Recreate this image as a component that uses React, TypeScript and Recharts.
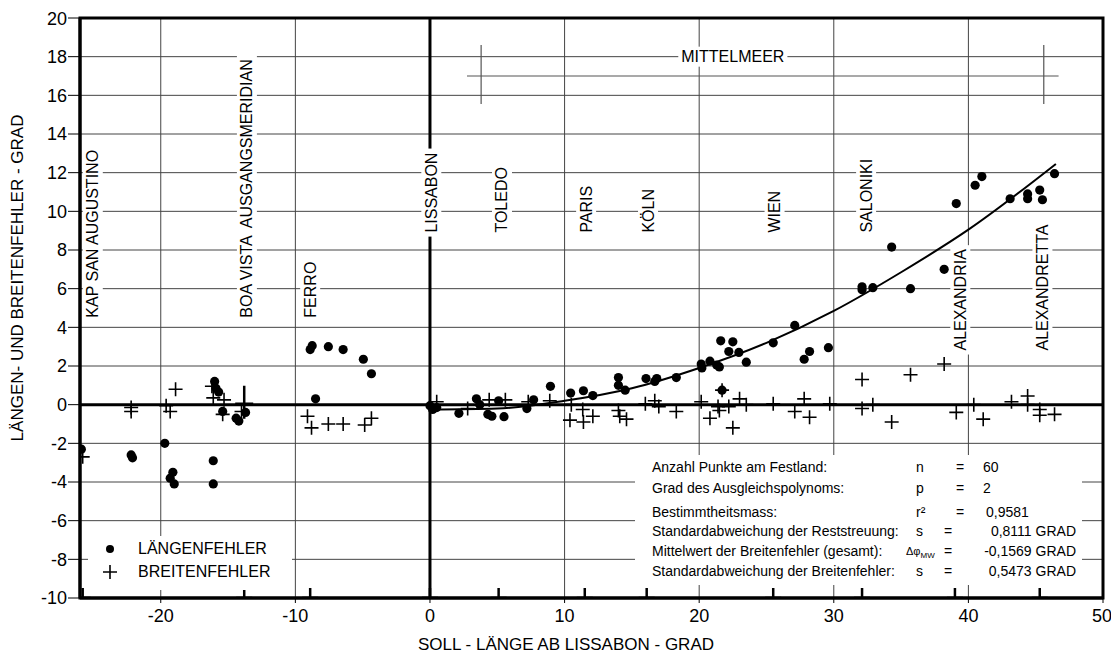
import React from "react";
import {
  ComposedChart,
  Scatter,
  Line,
  XAxis,
  YAxis,
  CartesianGrid,
  ReferenceLine,
  ReferenceArea,
  Legend,
} from "recharts";

const FONT = '"Liberation Sans", Arial, sans-serif';

// Längenfehler (Punkte)
const laengenfehler = [
  { x: -25.9, y: -2.3 },
  { x: -22.2, y: -2.6 },
  { x: -22.1, y: -2.75 },
  { x: -19.7, y: -2.0 },
  { x: -19.3, y: -3.8 },
  { x: -19.1, y: -3.5 },
  { x: -19.0, y: -4.1 },
  { x: -16.0, y: 1.2 },
  { x: -15.9, y: 0.85 },
  { x: -15.7, y: 0.65 },
  { x: -16.1, y: -2.9 },
  { x: -16.1, y: -4.1 },
  { x: -15.4, y: -0.35 },
  { x: -14.4, y: -0.7 },
  { x: -14.2, y: -0.85 },
  { x: -13.7, y: -0.4 },
  { x: -8.9, y: 2.85 },
  { x: -8.75, y: 3.05 },
  { x: -7.55, y: 3.0 },
  { x: -6.45, y: 2.85 },
  { x: -4.95, y: 2.35 },
  { x: -4.35, y: 1.6 },
  { x: -8.5, y: 0.3 },
  { x: 0, y: -0.05 },
  { x: 0.2, y: -0.25 },
  { x: 0.5, y: -0.15 },
  { x: 2.15, y: -0.45 },
  { x: 3.45, y: 0.3 },
  { x: 3.7, y: 0.0 },
  { x: 4.3, y: -0.5 },
  { x: 4.6, y: -0.6 },
  { x: 5.1, y: 0.2 },
  { x: 5.5, y: -0.62 },
  { x: 7.2, y: -0.2 },
  { x: 7.7, y: 0.25 },
  { x: 8.95, y: 0.95 },
  { x: 10.45, y: 0.6 },
  { x: 11.4, y: 0.72 },
  { x: 12.1, y: 0.47 },
  { x: 14.0, y: 1.4 },
  { x: 14.0, y: 1.0 },
  { x: 14.5, y: 0.75 },
  { x: 16.05, y: 1.35 },
  { x: 16.85, y: 1.35 },
  { x: 16.7, y: 1.2 },
  { x: 18.3, y: 1.4 },
  { x: 20.15, y: 2.1 },
  { x: 20.2, y: 1.9 },
  { x: 20.8, y: 2.25 },
  { x: 21.3, y: 2.05 },
  { x: 21.5, y: 1.95 },
  { x: 21.7, y: 0.75 },
  { x: 21.6, y: 3.3 },
  { x: 22.5, y: 3.25 },
  { x: 22.2, y: 2.75 },
  { x: 22.95, y: 2.7 },
  { x: 23.5, y: 2.2 },
  { x: 25.5, y: 3.2 },
  { x: 27.1, y: 4.1 },
  { x: 27.8, y: 2.35 },
  { x: 28.2, y: 2.75 },
  { x: 29.6, y: 2.95 },
  { x: 32.1, y: 6.1 },
  { x: 32.1, y: 5.95 },
  { x: 32.9, y: 6.05 },
  { x: 34.3, y: 8.15 },
  { x: 35.7, y: 6.0 },
  { x: 38.2, y: 7.0 },
  { x: 39.1, y: 10.4 },
  { x: 40.5, y: 11.35 },
  { x: 41.0, y: 11.8 },
  { x: 43.1, y: 10.65 },
  { x: 44.4, y: 10.9 },
  { x: 44.4, y: 10.65 },
  { x: 45.3, y: 11.1 },
  { x: 45.5, y: 10.6 },
  { x: 46.4, y: 11.95 },
];

// Breitenfehler (Kreuze)
const breitenfehler = [
  { x: -25.8, y: -2.7 },
  { x: -22.2, y: -0.15 },
  { x: -22.2, y: -0.35 },
  { x: -19.6, y: -0.05 },
  { x: -19.3, y: -0.35 },
  { x: -18.9, y: 0.8 },
  { x: -16.2, y: 0.95 },
  { x: -16.1, y: 0.35 },
  { x: -15.3, y: 0.25 },
  { x: -15.4, y: -0.5 },
  { x: -14.0, y: -0.35 },
  { x: -9.1, y: -0.6 },
  { x: -8.8, y: -1.2 },
  { x: -7.55, y: -1.0 },
  { x: -6.45, y: -1.0 },
  { x: -4.85, y: -1.05 },
  { x: -4.35, y: -0.7 },
  { x: 0.5, y: 0.15 },
  { x: 2.8, y: -0.2 },
  { x: 4.4, y: 0.25 },
  { x: 5.6, y: 0.25 },
  { x: 7.3, y: 0.15 },
  { x: 8.9, y: 0.2 },
  { x: 10.5, y: 0.0 },
  { x: 10.4, y: -0.8 },
  { x: 11.35, y: -0.25 },
  { x: 11.4, y: -0.9 },
  { x: 12.1, y: -0.6 },
  { x: 14.0, y: -0.3 },
  { x: 14.1, y: -0.6 },
  { x: 14.6, y: -0.75 },
  { x: 16.0, y: 0.05 },
  { x: 16.7, y: 0.2 },
  { x: 17.0, y: -0.1 },
  { x: 18.3, y: -0.35 },
  { x: 20.15, y: 0.15 },
  { x: 20.8, y: -0.7 },
  { x: 21.4, y: -0.1 },
  { x: 21.5, y: -0.3 },
  { x: 21.7, y: 0.75 },
  { x: 22.2, y: -0.1 },
  { x: 22.5, y: -1.2 },
  { x: 23.0, y: 0.3 },
  { x: 23.5, y: 0.0 },
  { x: 25.5, y: 0.05 },
  { x: 27.1, y: -0.35 },
  { x: 27.8, y: 0.3 },
  { x: 28.2, y: -0.65 },
  { x: 29.7, y: 0.05 },
  { x: 32.1, y: 1.3 },
  { x: 32.1, y: -0.2 },
  { x: 32.9, y: 0.0 },
  { x: 34.3, y: -0.9 },
  { x: 35.7, y: 1.55 },
  { x: 38.2, y: 2.1 },
  { x: 39.1, y: -0.4 },
  { x: 40.4, y: 0.0 },
  { x: 41.1, y: -0.75 },
  { x: 43.2, y: 0.15 },
  { x: 44.4, y: 0.45 },
  { x: 44.4, y: 0.0 },
  { x: 45.3, y: -0.25 },
  { x: 45.3, y: -0.55 },
  { x: 46.4, y: -0.5 },
];

// Ausgleichskurve
const ausgleichskurve = [
  { x: 0, y: -0.25 },
  { x: 5, y: -0.2 },
  { x: 10, y: 0.2 },
  { x: 15, y: 0.85 },
  { x: 20, y: 1.9 },
  { x: 25, y: 3.2 },
  { x: 30, y: 4.85 },
  { x: 35, y: 6.85 },
  { x: 40, y: 9.05 },
  { x: 46.5, y: 12.45 },
];

const staedte = [
  { name: "KAP SAN AUGUSTINO", x: -25.05, y: 4.5 },
  { name: "BOA VISTA  AUSGANGSMERIDIAN", x: -13.6, y: 4.5 },
  { name: "FERRO", x: -8.9, y: 4.5 },
  { name: "LISSABON", x: 0.1, y: 8.9 },
  { name: "TOLEDO", x: 5.35, y: 8.9 },
  { name: "PARIS", x: 11.6, y: 8.9 },
  { name: "KÖLN", x: 16.2, y: 8.9 },
  { name: "WIEN", x: 25.6, y: 8.9 },
  { name: "SALONIKI", x: 32.4, y: 8.9 },
  { name: "ALEXANDRIA", x: 39.4, y: 2.8 },
  { name: "ALEXANDRETTA", x: 45.5, y: 2.8 },
];

const stadtMarken = [-25.8, -13.8, -8.9, 0, 5.1, 11.5, 16.1, 25.5, 32.1, 39.0, 45.3];
const meridianMarke = [{ x: -13.8, y: 0.05 }];

const mittelmeerText = [{ name: "MITTELMEER", x: 22.5, y: 18 }];
const mittelmeerLinie = { von: 2.75, bis: 46.7, y: 17, links: 3.8, rechts: 45.6, oben: 18.6, unten: 15.55 };

const xTicks = [-20, -10, 0, 10, 20, 30, 40, 50];
const yTicks = [-10, -8, -6, -4, -2, 0, 2, 4, 6, 8, 10, 12, 14, 16, 18, 20];

const statistik = [
  { text: "Anzahl Punkte am Festland:", sym: "n", wert: "60", rechts: false },
  { text: "Grad des Ausgleichspolynoms:", sym: "p", wert: "2", rechts: false },
  { text: "Bestimmtheitsmass:", sym: "r²", wert: "0,9581", rechts: false },
  { text: "Standardabweichung der Reststreuung:", sym: "s", wert: "0,8111 GRAD", rechts: true },
  { text: "Mittelwert der Breitenfehler (gesamt):", sym: "Δφ", wert: "-0,1569 GRAD", rechts: true },
  { text: "Standardabweichung der Breitenfehler:", sym: "s", wert: "0,5473 GRAD", rechts: true },
];
const statZeilen = [12, 33, 57, 76, 96, 116];

// grobe Zeichenbreiten (Arial, em) für den weissen Hintergrund der Beschriftungen
const breite = (s: string) => {
  let w = 0;
  for (const c of s) {
    if (c === " ") w += 0.278;
    else if (c === "I") w += 0.278;
    else if ("MW".includes(c)) w += 0.833;
    else if ("OGQÖ".includes(c)) w += 0.778;
    else if ("NDHUCR".includes(c)) w += 0.722;
    else if ("TFZ".includes(c)) w += 0.611;
    else if ("L".includes(c)) w += 0.556;
    else w += 0.667;
  }
  return w;
};

const Punkt = (p: any) => <circle cx={p.cx} cy={p.cy} r={4.6} fill="#000" />;

const Kreuz = (p: any) => (
  <path
    d={`M${p.cx - 7},${p.cy}h14M${p.cx},${p.cy - 7}v14`}
    stroke="#000"
    strokeWidth={1.6}
    fill="none"
  />
);

const AchsMarke = (p: any) => (
  <path
    d={`M${p.cx - 8},${p.cy}h16M${p.cx},${p.cy - 10}v18`}
    stroke="#000"
    strokeWidth={2.5}
    fill="none"
  />
);

const GrosseMarke = (p: any) => (
  <path
    d={`M${p.cx - 9},${p.cy}h18M${p.cx},${p.cy - 18}v33`}
    stroke="#000"
    strokeWidth={2.5}
    fill="none"
  />
);

const StadtLabel = (p: any) => {
  const w = breite(p.payload.name) * 16;
  return (
    <g transform={`rotate(-90 ${p.cx} ${p.cy})`}>
      <rect x={p.cx - 4} y={p.cy - 10} width={w + 8} height={20} fill="#fff" />
      <text
        x={p.cx}
        y={p.cy}
        textAnchor="start"
        dominantBaseline="central"
        fontSize={16}
        fontFamily={FONT}
        fill="#000"
        style={{ whiteSpace: "pre" }}
      >
        {p.payload.name}
      </text>
    </g>
  );
};

const MeerLabel = (p: any) => {
  const w = breite(p.payload.name) * 16;
  return (
    <g>
      <rect x={p.cx - w / 2 - 3} y={p.cy - 10} width={w + 6} height={20} fill="#fff" />
      <text
        x={p.cx}
        y={p.cy}
        textAnchor="middle"
        dominantBaseline="central"
        fontSize={16}
        fontFamily={FONT}
        fill="#000"
      >
        {p.payload.name}
      </text>
    </g>
  );
};

const LegendeInhalt = () => (
  <div
    style={{
      background: "#fff",
      width: 204,
      height: 54,
      fontFamily: FONT,
      fontSize: 16,
      position: "relative",
    }}
  >
    <svg width={40} height={54} style={{ position: "absolute", left: 0, top: 0 }}>
      <circle cx={22} cy={13} r={4} fill="#000" />
      <path d="M15,36h14M22,29v14" stroke="#000" strokeWidth={1.6} />
    </svg>
    <div style={{ position: "absolute", left: 50, top: 3, lineHeight: "20px" }}>LÄNGENFEHLER</div>
    <div style={{ position: "absolute", left: 50, top: 26, lineHeight: "20px" }}>BREITENFEHLER</div>
  </div>
);

const Statistik = () => (
  <div
    style={{
      position: "absolute",
      left: 627,
      top: 447,
      width: 447,
      height: 130,
      background: "#fff",
      fontFamily: FONT,
      fontSize: 14,
      color: "#000",
    }}
  >
    {statistik.map((z, i) => {
      const top = statZeilen[i] - 8;
      const gleich = z.rechts ? 313 : 325;
      return (
        <React.Fragment key={i}>
          <div style={{ position: "absolute", left: 17, top, lineHeight: "16px" }}>{z.text}</div>
          <div
            style={{
              position: "absolute",
              left: z.sym === "Δφ" ? 271 : 281,
              top,
              lineHeight: "16px",
              fontSize: z.sym === "Δφ" ? 11 : 14,
            }}
          >
            {z.sym === "Δφ" ? (
              <span>
                Δφ<sub style={{ fontSize: 8 }}>MW</sub>
              </span>
            ) : (
              z.sym
            )}
          </div>
          <div style={{ position: "absolute", left: gleich - 4, top, lineHeight: "16px" }}>=</div>
          <div
            style={
              z.rechts
                ? { position: "absolute", right: 6, top, lineHeight: "16px" }
                : { position: "absolute", left: i === 2 ? 351 : 348, top, lineHeight: "16px" }
            }
          >
            {z.wert}
          </div>
        </React.Fragment>
      );
    })}
  </div>
);

export default function App() {
  return (
    <div style={{ position: "relative", width: 1103, height: 648 }}>
      <ComposedChart
        width={1103}
        height={648}
        margin={{ top: 10, right: 8, left: 0, bottom: 0 }}
      >
        <CartesianGrid stroke="#444" strokeWidth={1} />
        <XAxis
          type="number"
          dataKey="x"
          domain={[-26, 50]}
          allowDataOverflow
          ticks={xTicks}
          height={58}
          tickSize={5}
          tickMargin={6}
          axisLine={{ stroke: "#000", strokeWidth: 3 }}
          tickLine={{ stroke: "#000" }}
          tick={{ fontSize: 18, fill: "#000", fontFamily: FONT }}
          label={{
            value: "SOLL - LÄNGE AB LISSABON - GRAD",
            content: () => (
              <text x={558} y={636} textAnchor="middle" dominantBaseline="central" fontSize={17} fontFamily={FONT} fill="#000">
                SOLL - LÄNGE AB LISSABON - GRAD
              </text>
            ),
          }}
        />
        <YAxis
          type="number"
          dataKey="y"
          domain={[-10, 20]}
          allowDataOverflow
          ticks={yTicks}
          width={72}
          tickSize={12}
          tickMargin={1}
          axisLine={{ stroke: "#000", strokeWidth: 3 }}
          tickLine={{ stroke: "#000" }}
          tick={{ fontSize: 18, fill: "#000", fontFamily: FONT }}
          label={{
            value: "LÄNGEN- UND BREITENFEHLER - GRAD",
            content: () => (
              <text x={9} y={270} transform="rotate(-90 9 270)" textAnchor="middle" dominantBaseline="central" fontSize={17} fontFamily={FONT} fill="#000">
                LÄNGEN- UND BREITENFEHLER - GRAD
              </text>
            ),
          }}
        />
        <ReferenceArea x1={-26} x2={50} y1={-10} y2={20} fill="none" stroke="#000" strokeWidth={3} />
        <ReferenceLine x={0} stroke="#000" strokeWidth={3} />
        <ReferenceLine y={0} stroke="#000" strokeWidth={3} />
        <ReferenceLine
          segment={[
            { x: mittelmeerLinie.von, y: mittelmeerLinie.y },
            { x: mittelmeerLinie.bis, y: mittelmeerLinie.y },
          ]}
          stroke="#555"
          strokeWidth={1.2}
        />
        <ReferenceLine
          segment={[
            { x: mittelmeerLinie.links, y: mittelmeerLinie.oben },
            { x: mittelmeerLinie.links, y: mittelmeerLinie.unten },
          ]}
          stroke="#555"
          strokeWidth={1.2}
        />
        <ReferenceLine
          segment={[
            { x: mittelmeerLinie.rechts, y: mittelmeerLinie.oben },
            { x: mittelmeerLinie.rechts, y: mittelmeerLinie.unten },
          ]}
          stroke="#555"
          strokeWidth={1.2}
        />
        <Scatter data={staedte} shape={StadtLabel} isAnimationActive={false} legendType="none" />
        <Scatter data={mittelmeerText} shape={MeerLabel} isAnimationActive={false} legendType="none" />
        <Scatter
          data={stadtMarken.map((x) => ({ x, y: -10 }))}
          shape={AchsMarke}
          isAnimationActive={false}
          legendType="none"
        />
        <Scatter data={meridianMarke} shape={GrosseMarke} isAnimationActive={false} legendType="none" />
        <Line
          data={ausgleichskurve}
          dataKey="y"
          type="monotone"
          stroke="#000"
          strokeWidth={2}
          dot={false}
          isAnimationActive={false}
          legendType="none"
        />
        <Scatter name="LÄNGENFEHLER" data={laengenfehler} shape={Punkt} isAnimationActive={false} />
        <Scatter name="BREITENFEHLER" data={breitenfehler} shape={Kreuz} isAnimationActive={false} />
        <Legend
          layout="vertical"
          align="center"
          verticalAlign="middle"
          content={LegendeInhalt}
          wrapperStyle={{ left: 80, top: 528, width: 204, height: 54 }}
        />
      </ComposedChart>
      <Statistik />
    </div>
  );
}
